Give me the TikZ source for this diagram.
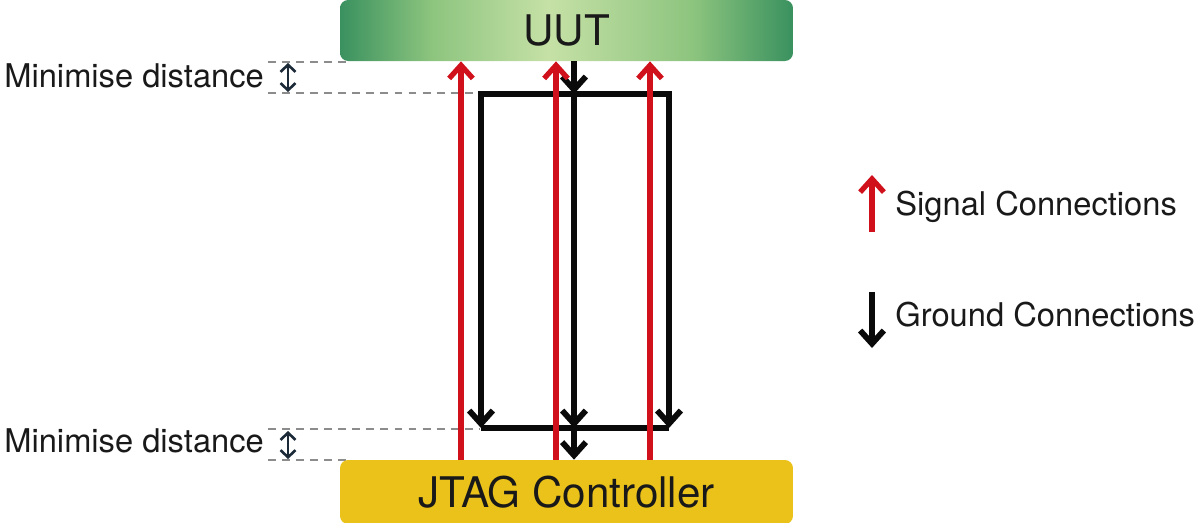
\documentclass[tikz,border=0pt]{standalone}
\usepackage{fontspec}
\setmainfont{TeX Gyre Heros}
\usetikzlibrary{arrows.meta}

% Colours of the picture
\definecolor{sigred}{HTML}{D0111B}
\definecolor{gndblack}{HTML}{0A0A0A}
\definecolor{uutdark}{HTML}{3A915F}
\definecolor{uutmid}{HTML}{8CC47E}
\definecolor{uutlight}{HTML}{C6E1A6}
\definecolor{jtagyellow}{HTML}{EBC21A}
\definecolor{gapnavy}{HTML}{1C2A38}
\definecolor{guidegray}{HTML}{8C8C8C}

% Green shading of the UUT board
\pgfdeclarehorizontalshading{uutshade}{100bp}{color(0bp)=(uutdark); color(25bp)=(uutdark); color(35bp)=(uutmid); color(48bp)=(uutlight); color(64bp)=(uutmid); color(75bp)=(uutdark); color(100bp)=(uutdark)}

\tikzset{
  board/.style={rounded corners=0.16cm, minimum width=9.06cm, inner sep=0pt,
    text=black!90, font=\fontsize{24}{28}\selectfont},
  sig/.style={draw=sigred, line width=3pt, -{Straight Barb[length=7.5pt,width=13.5pt]}},
  gnd/.style={draw=gndblack, line width=3.3pt, -{Straight Barb[length=7.5pt,width=13.5pt]}},
  wire/.style={draw=gndblack, line width=3.3pt},
  guide/.style={draw=guidegray, line width=0.6pt, dash pattern=on 4.5pt off 3.5pt},
  gap/.style={draw=gapnavy, line width=1.5pt,
    {Straight Barb[length=4pt,width=8.5pt]}-{Straight Barb[length=4pt,width=8.5pt]}},
  note/.style={font=\fontsize{18.6}{22}\selectfont, inner sep=0pt, text=black!90}
}

\begin{document}
\begin{tikzpicture}[x=0.02cm, y=-0.02cm]

  % Fix the size of the page
  \useasboundingbox (0,0) rectangle (1200,522);

  % Ends of the dashed guide lines
  \coordinate (ga) at (268,62);
  \coordinate (gb) at (268,93);
  \coordinate (gc) at (268,429);
  \coordinate (gd) at (268,460);

  % Dashed guide lines (drawn first, the boards cover them)
  \draw[guide] (ga) -- +(84,0);
  \draw[guide] (gb) -- +(212,0);
  \draw[guide] (gc) -- +(212,0);
  \draw[guide] (gd) -- +(84,0);

  % The two boards
  \node[board, shading=uutshade, minimum height=1.22cm] (uut) at (566.5,30.5) {UUT};
  \node[board, fill=jtagyellow, minimum height=1.28cm] (jtag) at (566.5,492) {JTAG Controller};

  % Distance arrows and their labels
  \draw[gap] ([shift={(20,1)}]ga) -- ([shift={(20,-1)}]gb);
  \draw[gap] ([shift={(20,2)}]gc) -- ([shift={(20,-1)}]gd);
  \node[note, anchor=base west] (mintop) at (4,87) {Minimise distance};
  \node[note, anchor=base west] (minbot) at (4,452) {Minimise distance};

  % Corners of the ground loop
  \coordinate (rtl) at (481,94);
  \coordinate (rtr) at (669,94);
  \coordinate (rbl) at (481,428);
  \coordinate (rbr) at (669,428);
  \coordinate (gtop) at (574,94);
  \coordinate (gbot) at (574,428);

  % Ground connections
  \draw[gnd] (uut.south -| gtop) -- (gtop);
  \draw[gnd] (gtop) -| (rbl);
  \draw[gnd] (gtop) -| (rbr);
  \draw[wire] (rbl) -- (rbr);
  \draw[gnd] (gtop) -- (gbot);
  \draw[gnd] (gbot) -- (jtag.north -| gbot);

  % Signal connections
  \coordinate (s1) at (461,250);
  \coordinate (s2) at (556,250);
  \coordinate (s3) at (650,250);
  \foreach \s in {s1,s2,s3}
    \draw[sig] (jtag.north -| \s) -- (uut.south -| \s);

  % Legend
  \node[note, anchor=base west] (sigtext) at (895,215) {Signal Connections};
  \node[note, anchor=base west] (gndtext) at (895,326) {Ground Connections};
  \coordinate (sl) at (872,232);
  \coordinate (gl) at (872,292);
  \draw[sig] (sl) -- +(0,-57);
  \draw[gnd] (gl) -- +(0,56);

\end{tikzpicture}
\end{document}
